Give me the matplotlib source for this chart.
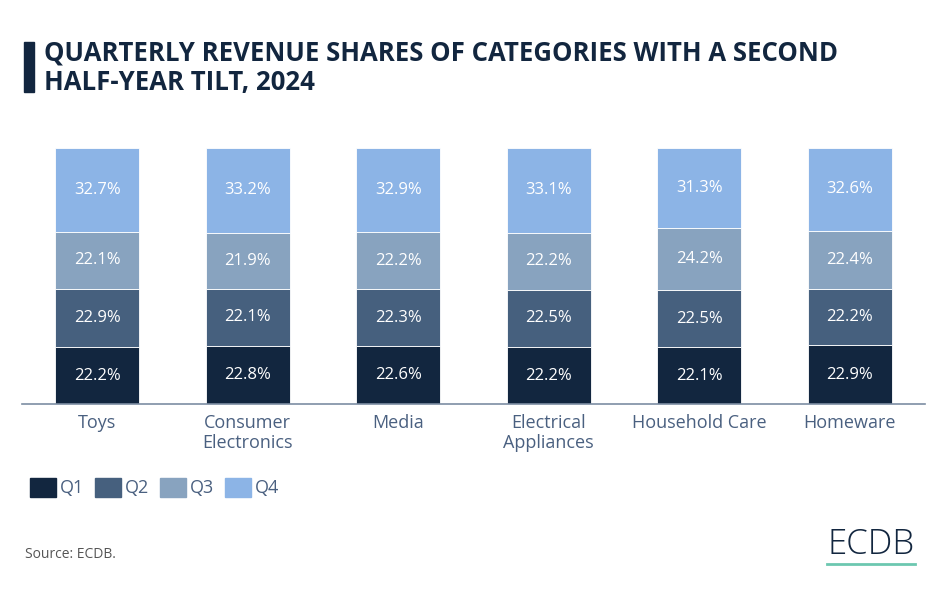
import matplotlib
matplotlib.use("Agg")
import matplotlib.pyplot as plt
from matplotlib.patches import Rectangle
import numpy as np

categories = ["Toys", "Consumer\nElectronics", "Media", "Electrical\nAppliances", "Household Care", "Homeware"]
series_names = ["Q1", "Q2", "Q3", "Q4"]
q1 = [22.2, 22.8, 22.6, 22.2, 22.1, 22.9]
q2 = [22.9, 22.1, 22.3, 22.5, 22.5, 22.2]
q3 = [22.1, 21.9, 22.2, 22.2, 24.2, 22.4]
q4 = [32.7, 33.2, 32.9, 33.1, 31.3, 32.6]
colors = ["#12263f", "#46607e", "#88a3bf", "#8cb4e6"]

plt.rcParams['font.family'] = ['Open Sans', 'DejaVu Sans']

fig = plt.figure(figsize=(9.5, 6), dpi=100)
ax = fig.add_axes([22/950, (600-404)/600, (925-22)/950, (404-148)/600])

x = np.arange(len(categories))
bottom = np.zeros(len(categories))
for name, vals, c in zip(series_names, [q1, q2, q3, q4], colors):
    vals = np.array(vals)
    ax.bar(x, vals, bottom=bottom, width=0.555, color=c, edgecolor="white", linewidth=0.6, label=name)
    for xi, b, v in zip(x, bottom, vals):
        ax.text(xi, b + v / 2, f"{v:.1f}%", ha="center", va="center", color="white", fontsize=12)
    bottom += vals

ax.set_xlim(-0.5, len(categories) - 0.5)
ax.set_ylim(0, 100)
ax.set_yticks([])
ax.set_xticks(x)
ax.set_xticklabels(categories, fontsize=13, color="#4a6080", linespacing=1.15)
ax.tick_params(axis="x", length=0, pad=7)
for s in ["top", "right", "left"]:
    ax.spines[s].set_visible(False)
ax.spines["bottom"].set_color("#7d8ea3")
ax.spines["bottom"].set_linewidth(1.2)

# Legend (manual)
leg_x = [30, 95, 160, 225]
for lx, name, c in zip(leg_x, series_names, colors):
    fig.patches.append(Rectangle((lx/950, 1 - 497/600), 26/950, 19/600, transform=fig.transFigure, color=c))
    fig.text((lx + 30)/950, 1 - 488/600, name, ha="left", va="center", fontsize=13, color="#4a6080")

# Title
fig.patches.append(Rectangle((24/950, 1 - 92/600), 10/950, 50/600, transform=fig.transFigure,
                             color="#12263f"))
fig.text(44/950, 1 - 68/600, "QUARTERLY REVENUE SHARES OF CATEGORIES WITH A SECOND\nHALF-YEAR TILT, 2024",
         ha="left", va="center", fontsize=18.5, fontweight="bold", color="#12263f", linespacing=1.12)

# Source
fig.text(25/950, 1 - 555/600, "Source: ECDB.", ha="left", va="center", fontsize=10, color="#555555")

# Logo
fig.text(871/950, 1 - 545/600, "ECDB", ha="center", va="center", fontsize=25, color="#12263f",
         fontweight="light")
fig.lines.append(plt.Line2D([827/950, 915/950], [1 - 564/600, 1 - 564/600], transform=fig.transFigure,
                            color="#6cc7b0", linewidth=2))

fig.savefig("out.png", dpi=100, facecolor="white")
